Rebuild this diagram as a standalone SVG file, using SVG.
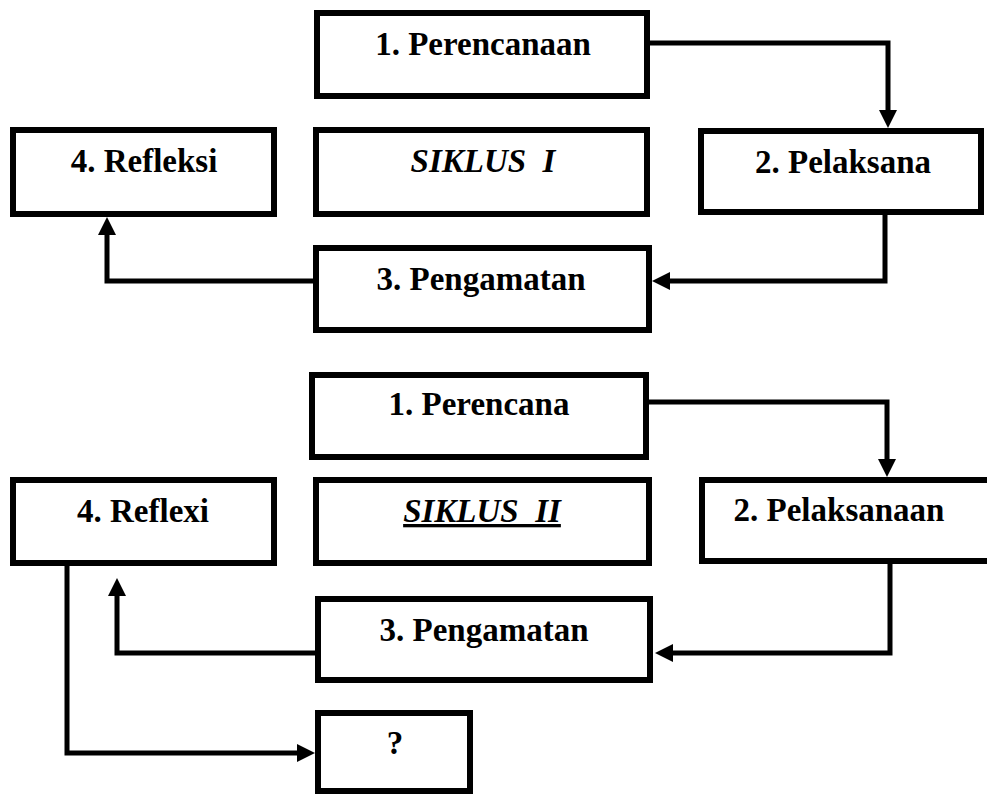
<svg xmlns="http://www.w3.org/2000/svg" width="987" height="796" viewBox="0 0 987 796">
<style>
.box{fill:#fff;stroke:#000;stroke-width:6}
.t{font-family:"Liberation Serif","Times New Roman",serif;font-weight:bold;font-size:33px;text-anchor:middle;fill:#000;white-space:pre}
.it{font-style:italic}
.c{fill:none;stroke:#000;stroke-width:5;stroke-linejoin:miter;stroke-linecap:butt;marker-end:url(#ah)}
</style>
<defs>
<marker id="ah" markerUnits="userSpaceOnUse" markerWidth="20" markerHeight="20" refX="8" refY="9" orient="auto" overflow="visible">
<path d="M0,0 L18,9 L0,18 z" fill="#000"/>
</marker>
</defs>
<rect width="987" height="796" fill="#fff"/>
<g id="connectors">
<path class="c" d="M650,43 H888 V118"/>
<path class="c" d="M885,215 V281 H662"/>
<path class="c" d="M313,281 H107 V227"/>
<path class="c" d="M649,402 H887 V467"/>
<path class="c" d="M890,564 V653 H665"/>
<path class="c" d="M315,653 H117 V588"/>
<path class="c" d="M67,566 V753 H305"/>
</g>
<g id="c1-perencanaan"><rect class="box" x="317" y="13" width="330" height="83"/><text class="t" x="483" y="55">1. Perencanaan</text></g>
<g id="c1-refleksi"><rect class="box" x="13" y="130" width="261" height="84"/><text class="t" x="144" y="172">4. Refleksi</text></g>
<g id="c1-siklus"><rect class="box" x="316" y="130" width="331" height="84"/><text class="t it" x="483" y="172">SIKLUS  I</text></g>
<g id="c1-pelaksana"><rect class="box" x="701" y="131" width="280" height="81"/><text class="t" x="843" y="173">2. Pelaksana</text></g>
<g id="c1-pengamatan"><rect class="box" x="316" y="248" width="333" height="82"/><text class="t" x="481" y="290">3. Pengamatan</text></g>
<g id="c2-perencana"><rect class="box" x="312" y="375" width="334" height="82"/><text class="t" x="479" y="415">1. Perencana</text></g>
<g id="c2-siklus"><rect class="box" x="316" y="480" width="333" height="83"/><text class="t it" x="482" y="522" text-decoration="underline">SIKLUS  II</text></g>
<g id="c2-reflexi"><rect class="box" x="13" y="480" width="261" height="83"/><text class="t" x="143" y="522">4. Reflexi</text></g>
<g id="c2-pelaksanaan"><rect class="box" x="702" y="480" width="300" height="81"/><text class="t" x="839" y="521">2. Pelaksanaan</text></g>
<g id="c2-pengamatan"><rect class="box" x="318" y="599" width="332" height="81"/><text class="t" x="484" y="641">3. Pengamatan</text></g>
<g id="next"><rect class="box" x="318" y="713" width="152" height="78"/><text class="t" x="395" y="754">?</text></g>
</svg>
